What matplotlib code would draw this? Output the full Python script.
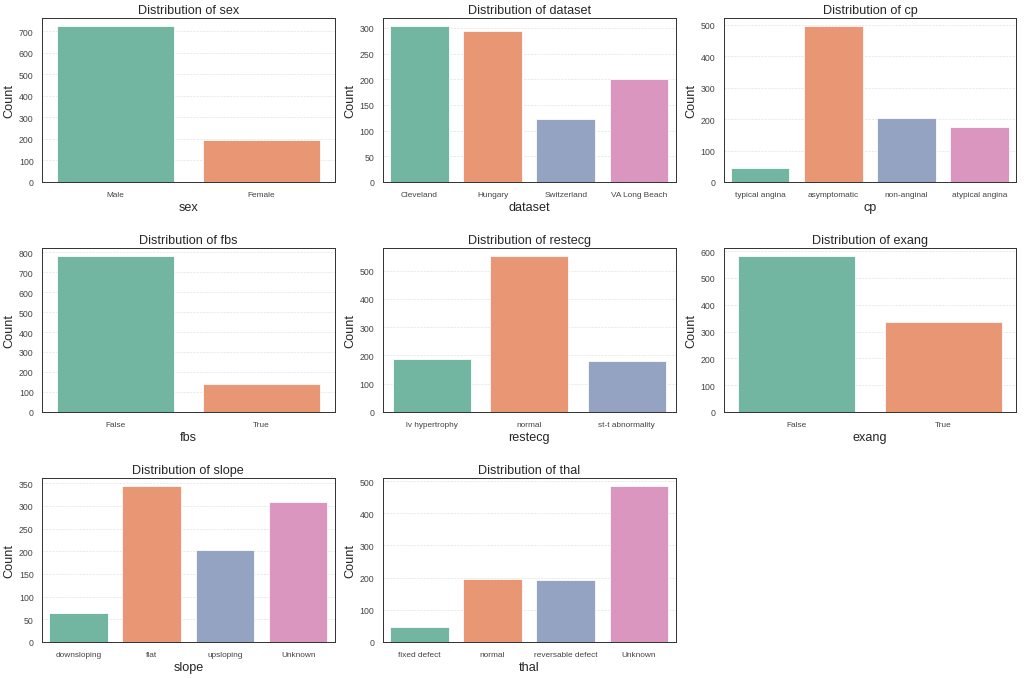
import matplotlib
matplotlib.use("Agg")
import matplotlib.pyplot as plt
import seaborn as sns

# -------------------------
# Data (counts per category)
# -------------------------
sex_labels = ["Male", "Female"]
sex_counts = [726, 194]

dataset_labels = ["Cleveland", "Hungary", "Switzerland", "VA Long Beach"]
dataset_counts = [304, 293, 123, 200]

cp_labels = ["typical angina", "asymptomatic", "non-anginal", "atypical angina"]
cp_counts = [46, 496, 204, 174]

fbs_labels = ["False", "True"]
fbs_counts = [782, 138]

restecg_labels = ["lv hypertrophy", "normal", "st-t abnormality"]
restecg_counts = [188, 553, 179]

exang_labels = ["False", "True"]
exang_counts = [583, 337]

slope_labels = ["downsloping", "flat", "upsloping", "Unknown"]
slope_counts = [63, 345, 203, 309]

thal_labels = ["fixed defect", "normal", "reversable defect", "Unknown"]
thal_counts = [46, 196, 192, 486]

columns = [
    ("sex", sex_labels, sex_counts),
    ("dataset", dataset_labels, dataset_counts),
    ("cp", cp_labels, cp_counts),
    ("fbs", fbs_labels, fbs_counts),
    ("restecg", restecg_labels, restecg_counts),
    ("exang", exang_labels, exang_counts),
    ("slope", slope_labels, slope_counts),
    ("thal", thal_labels, thal_counts),
]

# -------------------------
# Plot
# -------------------------
sns.set_style("white")
plt.rcParams["font.family"] = ["Liberation Sans", "DejaVu Sans"]

palette = sns.color_palette("Set2")

fig, axes = plt.subplots(3, 3, figsize=(18, 11.935), dpi=56.89)
axes = axes.flatten()

for i, (name, labels, counts) in enumerate(columns):
    ax = axes[i]
    sns.barplot(x=labels, y=counts, hue=labels, palette=palette[:len(labels)],
                legend=False, ax=ax, edgecolor="white", linewidth=1)
    ax.set_title(f"Distribution of {name}", fontsize=16, color="#262626")
    ax.set_xlabel(name, fontsize=16, color="#262626")
    ax.set_ylabel("Count", fontsize=16, color="#262626")
    ax.tick_params(axis="x", labelsize=10.5, labelcolor="#444444", pad=8)
    ax.tick_params(axis="y", labelsize=11, labelcolor="#444444", pad=7)
    ax.grid(axis="y", linestyle="--", alpha=0.6)
    ax.set_axisbelow(True)
    for s in ax.spines.values():
        s.set_color("#333333")
        s.set_linewidth(1.25)

axes[-1].axis("off")

plt.subplots_adjust(left=0.041, right=0.9925, top=0.972, bottom=0.0533,
                    wspace=0.164, hspace=0.402)
plt.savefig("out.png")
